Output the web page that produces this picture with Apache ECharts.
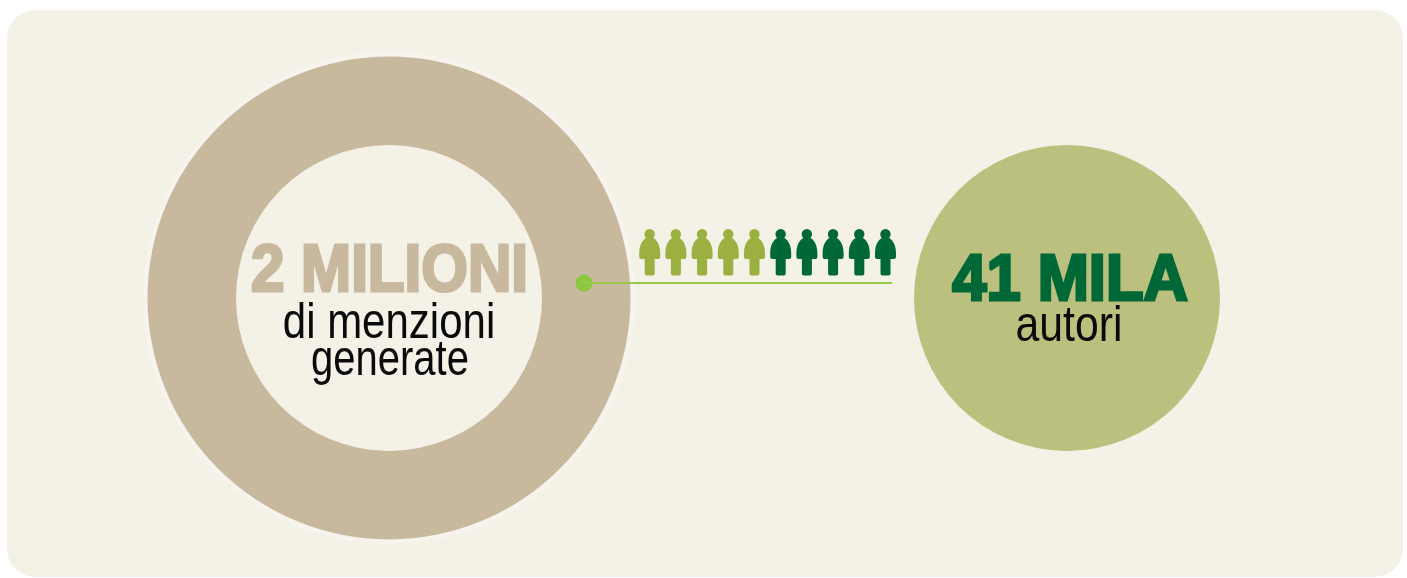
<!DOCTYPE html>
<html>
<head>
<meta charset="utf-8">
<style>
  html, body { margin: 0; background: #fff; }
  #main { width: 1407px; height: 578px; }
</style>
<script src="https://cdn.jsdelivr.net/npm/echarts@6/dist/echarts.min.js"></script>
</head>
<body>
<div id="main"></div>
<script>
// values
const mentionsValues = [2000000];
const authorsValues = [41000];
const peopleCategories = ['1', '2', '3', '4', '5', '6', '7', '8', '9', '10'];
const peopleValues = [1, 1, 1, 1, 1, 1, 1, 1, 1, 1];
const peopleGroups = ['a', 'a', 'a', 'a', 'a', 'b', 'b', 'b', 'b', 'b'];
const connectorValues = [[0, 0], [1, 0]];

// text
const mentionsTitle = '2 MILIONI';
const mentionsLines = ['di menzioni', 'generate'];
const authorsTitle = '41 MILA';
const authorsLine = 'autori';

const personPath = 'path://M10.5 0A5.2 5.2 0 1 1 10.4 0ZM10.5 8C16.5 8 21 15 21 24L21 27.5Q21 29.7 19 29.7L15.5 29.7L15.5 44Q15.5 46 13.5 46L7.5 46Q5.5 46 5.5 44L5.5 29.7L2 29.7Q0 29.7 0 27.5L0 24C0 15 4.5 8 10.5 8Z';

const tan = '#c8b99e';
const cream = '#f4f1e7';
const sans = '"Liberation Sans", sans-serif';

function label(text, x, y, size, color, scaleX, heavy) {
    return {
        type: 'text',
        x: x,
        y: y,
        scaleX: scaleX,
        z: 20,
        style: {
            text: text,
            fill: color,
            stroke: heavy ? color : null,
            lineWidth: heavy || 0,
            font: (heavy ? 'bold ' : '') + size + 'px ' + sans,
            textAlign: 'center',
            textVerticalAlign: 'middle'
        }
    };
}

const chart = echarts.init(document.getElementById('main'), null, { renderer: 'canvas' });

chart.setOption({
    animation: false,
    graphic: [
        {
            type: 'rect',
            z: -10,
            silent: true,
            shape: { x: 7, y: 10, width: 1396, height: 567, r: 28 },
            style: { fill: cream }
        },
        label(mentionsTitle, 389.5, 273, 66, tan, 0.91, 3),
        label(mentionsLines[0], 389, 324, 50, '#0a0a0a', 0.84),
        label(mentionsLines[1], 390, 361, 50, '#0a0a0a', 0.80),
        label(authorsTitle, 1070, 282, 64, '#006837', 0.96, 3),
        label(authorsLine, 1069, 327, 50, '#0a0a0a', 0.855)
    ],
    grid: [
        { left: 636.6, top: 229, width: 262, height: 46.5 },
        { left: 584, top: 263, width: 308, height: 40 }
    ],
    xAxis: [
        { type: 'category', gridIndex: 0, data: peopleCategories, show: false },
        { type: 'value', gridIndex: 1, min: 0, max: 1, show: false }
    ],
    yAxis: [
        { type: 'value', gridIndex: 0, min: 0, max: 1, show: false },
        { type: 'value', gridIndex: 1, min: -1, max: 1, show: false }
    ],
    series: [
        {
            type: 'pie',
            silent: true,
            z: 1,
            center: [389, 298],
            radius: [200, 246],
            startAngle: 90,
            label: { show: false },
            itemStyle: { color: '#f7f4ee' },
            data: mentionsValues
        },
        {
            type: 'pie',
            silent: true,
            z: 2,
            center: [389, 298],
            radius: [153, 241.5],
            startAngle: 90,
            label: { show: false },
            itemStyle: { color: tan },
            data: mentionsValues
        },
        {
            type: 'pie',
            silent: true,
            z: 2,
            center: [1067, 298],
            radius: [0, 153],
            label: { show: false },
            itemStyle: { color: '#bcc07f' },
            data: authorsValues
        },
        {
            type: 'pictorialBar',
            xAxisIndex: 0,
            yAxisIndex: 0,
            z: 5,
            silent: true,
            symbol: personPath,
            symbolSize: [21, 46.5],
            symbolPosition: 'end',
            data: peopleValues.map((v, i) => ({
                value: v,
                itemStyle: { color: peopleGroups[i] === 'a' ? '#9bb040' : '#006837' }
            }))
        },
        {
            type: 'line',
            xAxisIndex: 1,
            yAxisIndex: 1,
            z: 6,
            silent: true,
            symbol: 'none',
            lineStyle: { color: '#97c94a', width: 2 },
            markPoint: {
                silent: true,
                symbol: 'circle',
                symbolSize: 17,
                itemStyle: { color: '#8dc63f' },
                label: { show: false },
                data: [{ coord: connectorValues[0] }]
            },
            data: connectorValues
        }
    ]
});
</script>
</body>
</html>
